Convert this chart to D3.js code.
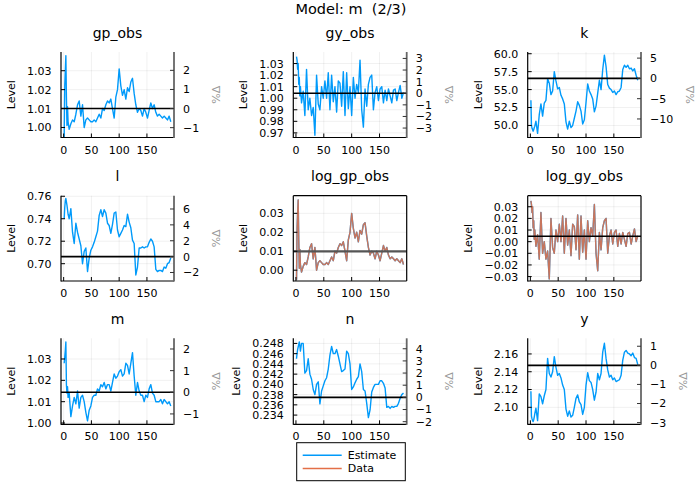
<!DOCTYPE html>
<html><head><meta charset="utf-8">
<script src="https://cdn.jsdelivr.net/npm/d3@7"></script>
<style>body{margin:0;background:#fff}svg{font-family:"DejaVu Sans",sans-serif}</style>
</head><body><svg id="c" width="700" height="500"></svg>
<script>
// ---------- data ----------
const periods = [1,2,3,4,5,6,7,8,10,13,16,19,22,25,28,31,34,37,40,43,46,49,52,55,58,61,64,67,70,73,76,79,82,85,88,91,94,97,100,103,106,109,112,115,118,121,124,127,130,133,136,139,142,145,148,151,154,157,160,163,166,169,172,175,178,181,184,187,190,193];

const gpObs = [0.995,1.022,1.030,1.038,1.016,1.001,1.011,1.003,0.999,
 1.002,1.004,1.003,1.007,1.012,1.014,1.006,1.012,1.000,1.004,1.005,1.004,1.003,1.003,1.004,1.003,1.005,1.007,1.005,1.010,1.009,1.012,1.014,1.013,1.015,1.010,1.005,1.016,1.020,1.031,1.022,1.017,1.020,1.015,1.021,1.019,1.024,1.026,1.018,1.012,1.008,1.010,1.009,1.006,1.010,1.008,1.005,1.009,1.013,1.010,1.012,1.008,1.006,1.007,1.006,1.005,1.006,1.005,1.004,1.006,1.003];

const gyObs = [1.036,1.033,1.025,1.030,1.012,1.018,1.002,1.010,0.996,
 1.006,0.985,1.025,0.990,1.000,0.985,0.992,0.968,1.020,0.995,0.990,1.010,1.000,1.015,1.000,1.022,0.990,1.020,0.997,1.010,0.988,1.015,1.013,0.993,1.023,0.985,1.022,0.991,1.010,0.985,1.018,1.000,1.012,1.005,1.033,0.990,0.975,1.008,0.993,1.012,1.018,1.020,0.990,1.005,1.010,0.998,1.008,1.010,0.996,1.007,0.998,1.008,1.002,0.996,1.007,1.008,0.998,1.005,1.011,1.000,1.005];

const kVals = [53.5,50.0,49.6,49.4,49.2,49.4,49.7,49.9,50.6,
 48.9,51.5,53.0,51.3,53.1,53.5,56.5,55.9,54.3,54.8,57.5,56.2,55.1,55.3,54.2,53.7,53.0,50.5,49.5,50.6,49.7,50.0,51.0,52.0,53.3,52.8,52.0,50.2,50.8,53.2,55.8,54.8,54.3,53.7,51.9,52.7,54.5,56.3,55.0,57.8,59.8,58.2,55.7,55.2,55.0,54.6,54.8,54.3,54.7,54.8,55.3,57.8,58.4,58.1,58.4,57.9,58.0,57.6,57.9,57.0,56.3];

const lVals = [0.740,0.750,0.756,0.758,0.755,0.752,0.748,0.744,0.740,
 0.749,0.728,0.718,0.736,0.728,0.722,0.716,0.700,0.711,0.714,0.693,0.705,0.712,0.715,0.719,0.724,0.729,0.743,0.748,0.742,0.748,0.745,0.736,0.734,0.727,0.735,0.745,0.746,0.730,0.724,0.727,0.730,0.734,0.733,0.744,0.737,0.732,0.721,0.718,0.690,0.697,0.714,0.714,0.715,0.714,0.715,0.715,0.719,0.722,0.720,0.715,0.695,0.693,0.694,0.694,0.693,0.697,0.696,0.700,0.701,0.705];

const logGpObs = [-0.005,0.022,0.030,0.037,0.016,0.001,0.011,0.003,-0.001,
 0.002,0.004,0.003,0.007,0.012,0.014,0.006,0.012,0.000,0.004,0.005,0.004,0.003,0.003,0.004,0.003,0.005,0.007,0.005,0.010,0.009,0.012,0.014,0.013,0.015,0.010,0.005,0.016,0.020,0.030,0.022,0.017,0.020,0.015,0.021,0.019,0.024,0.025,0.018,0.012,0.008,0.010,0.009,0.006,0.010,0.008,0.005,0.009,0.013,0.010,0.012,0.008,0.006,0.007,0.006,0.005,0.006,0.005,0.004,0.006,0.003];

const logGyObs = [0.035,0.032,0.025,0.030,0.012,0.018,0.002,0.010,-0.004,
 0.006,-0.015,0.025,-0.010,0.000,-0.015,-0.008,-0.032,0.020,-0.005,-0.010,0.010,0.000,0.015,0.000,0.022,-0.010,0.020,-0.003,0.010,-0.012,0.015,0.013,-0.007,0.023,-0.015,0.022,-0.009,0.010,-0.015,0.018,0.000,0.012,0.005,0.032,-0.010,-0.025,0.008,-0.007,0.012,0.018,0.020,-0.010,0.005,0.010,-0.002,0.008,0.010,-0.004,0.007,-0.002,0.008,0.002,-0.004,0.007,0.008,-0.002,0.005,0.011,0.000,0.005];

const mVals = [1.028,1.031,1.034,1.038,1.018,1.014,1.017,1.012,1.014,
 1.003,1.008,1.012,1.009,1.015,1.007,1.012,1.013,1.010,1.005,1.001,1.006,1.008,1.012,1.013,1.013,1.016,1.015,1.018,1.017,1.019,1.016,1.018,1.018,1.015,1.019,1.023,1.021,1.022,1.024,1.025,1.022,1.023,1.028,1.027,1.023,1.028,1.033,1.022,1.013,1.019,1.015,1.013,1.013,1.010,1.013,1.012,1.016,1.018,1.014,1.013,1.010,1.010,1.010,1.011,1.009,1.011,1.010,1.009,1.010,1.008];

const nVals = [0.2450,0.2460,0.2468,0.2473,0.2478,0.2483,0.2475,0.2465,0.2480,
 0.2480,0.2422,0.2427,0.2450,0.2420,0.2410,0.2390,0.2380,0.2400,0.2405,0.2362,0.2387,0.2397,0.2407,0.2413,0.2430,0.2457,0.2474,0.2460,0.2460,0.2468,0.2455,0.2440,0.2425,0.2427,0.2430,0.2465,0.2460,0.2440,0.2390,0.2395,0.2403,0.2410,0.2415,0.2440,0.2425,0.2390,0.2387,0.2363,0.2335,0.2350,0.2385,0.2394,0.2400,0.2400,0.2400,0.2407,0.2407,0.2402,0.2393,0.2355,0.2357,0.2353,0.2357,0.2355,0.2357,0.2357,0.2363,0.2373,0.2380,0.2383];

const yVals = [2.118,2.090,2.087,2.085,2.084,2.086,2.089,2.093,2.099,
 2.085,2.115,2.112,2.104,2.113,2.120,2.155,2.138,2.134,2.140,2.157,2.145,2.136,2.138,2.133,2.125,2.120,2.098,2.090,2.096,2.089,2.091,2.100,2.110,2.114,2.106,2.103,2.092,2.100,2.125,2.139,2.130,2.128,2.120,2.108,2.117,2.138,2.131,2.138,2.162,2.172,2.155,2.142,2.134,2.136,2.131,2.133,2.129,2.130,2.131,2.136,2.153,2.162,2.164,2.161,2.160,2.158,2.161,2.156,2.155,2.148];

const panelNames = ["gp_obs","gy_obs","k","l","log_gp_obs","log_gy_obs","m","n","y"];
const estimateSeries = [gpObs, gyObs, kVals, lVals, logGpObs, logGyObs, mVals, nVals, yVals];
const dataSeries = [null, null, null, null, logGpObs, logGyObs, null, null, null];
const steadyStates = [1.0100, 1.0043, 56.56, 0.7063, 0.0099, 0.0046, 1.0144, 0.23746, 2.1472];
const yLow  = [0.9947, 0.966, 48.32, 0.6846, -0.0057, -0.0338, 0.9994, 0.2322, 2.0809];
const yHigh = [1.0399, 1.040, 60.24, 0.7605, 0.0393, 0.0395, 1.0397, 0.2490, 2.1776];
const leftTicks = [
  [1.00,1.01,1.02,1.03],
  [0.97,0.98,0.99,1.00,1.01,1.02,1.03],
  [50.0,52.5,55.0,57.5,60.0],
  [0.70,0.72,0.74,0.76],
  [0.00,0.01,0.02,0.03],
  [-0.03,-0.02,-0.01,0.00,0.01,0.02,0.03],
  [1.00,1.01,1.02,1.03],
  [0.234,0.236,0.238,0.240,0.242,0.244,0.246,0.248],
  [2.10,2.12,2.14,2.16]
];
const leftFormats = [".2f",".2f",".1f",".2f",".2f",".2f",".2f",".3f",".2f"];
const rightTicks = [[-1,0,1,2],[-3,-2,-1,0,1,2,3],[-10,-5,0,5],[-2,0,2,4,6],null,null,[-1,0,1,2],[-2,-1,0,1,2,3,4],[-3,-2,-1,0,1]];
const xTicks = [0,50,100,150];
const legendLabels = ["Estimate","Data"];
const chartTitle = "Model: m  (2/3)";

// ---------- layout ----------
const colX = [[61,174],[293.3,406.7],[527.7,641]];
const rowY = [[52,137.5],[195.7,281],[338.3,424.3]];
const blue = "#009AFA", orange = "#E36F47";

const svg = d3.select("#c");
svg.append("rect").attr("width",700).attr("height",500).attr("fill","#fff");

svg.append("text").attr("x",351).attr("y",13.5).attr("text-anchor","middle")
  .style("white-space","pre")
  .attr("font-size",14.5).attr("fill","#000").text(chartTitle);

const xDomain = [1 - 192*0.03, 193 + 192*0.03];

panelNames.forEach((name, i) => {
  const c = i % 3, r = Math.floor(i / 3);
  const [x0, x1] = colX[c], [y0, y1] = rowY[r];
  const g = svg.append("g");
  const x = d3.scaleLinear().domain(xDomain).range([x0, x1]);
  const y = d3.scaleLinear().domain([yLow[i], yHigh[i]]).range([y1, y0]);
  const isBox = rightTicks[i] === null;

  // grid
  g.append("g").selectAll("line").data(xTicks).join("line")
    .attr("x1", d => x(d)).attr("x2", d => x(d)).attr("y1", y0).attr("y2", y1)
    .attr("stroke", "#000").attr("stroke-opacity", 0.1).attr("stroke-width", 0.6);
  g.append("g").selectAll("line").data(leftTicks[i]).join("line")
    .attr("x1", x0).attr("x2", x1).attr("y1", d => y(d)).attr("y2", d => y(d))
    .attr("stroke", "#000").attr("stroke-opacity", 0.1).attr("stroke-width", 0.6);

  // clip
  const clipId = "clip" + i;
  svg.append("clipPath").attr("id", clipId).append("rect")
    .attr("x", x0).attr("y", y0).attr("width", x1 - x0).attr("height", y1 - y0);

  const line = d3.line().x((d, j) => x(periods[j])).y(d => y(d));
  const plot = g.append("g").attr("clip-path", `url(#${clipId})`);
  plot.append("path").datum(estimateSeries[i]).attr("d", line)
    .attr("fill", "none").attr("stroke", blue).attr("stroke-width", 1.4).attr("stroke-linejoin","round");
  if (dataSeries[i]) {
    plot.append("path").datum(dataSeries[i]).attr("d", line)
      .attr("fill", "none").attr("stroke", orange).attr("stroke-width", 1.4)
      .attr("stroke-opacity", 0.88).attr("stroke-linejoin","round");
  }
  // steady state line
  g.append("line").attr("x1", x0).attr("x2", x1)
    .attr("y1", y(steadyStates[i])).attr("y2", y(steadyStates[i]))
    .attr("stroke", name === "log_gp_obs" ? "#555" : "#000")
    .attr("stroke-width", name === "log_gp_obs" ? 2.2 : 1.6);

  // left axis
  const fmt = d3.format(leftFormats[i]);
  const lt = g.append("g");
  lt.selectAll("line").data(leftTicks[i]).join("line")
    .attr("x1", x0).attr("x2", x0 + 4).attr("y1", d => y(d)).attr("y2", d => y(d))
    .attr("stroke", "#000").attr("stroke-width", 1);
  const leftLabels = lt.selectAll("text").data(leftTicks[i]).join("text")
    .attr("x", x0 - 9.5).attr("y", d => y(d)).attr("dy", "0.36em")
    .attr("text-anchor", "end").attr("font-size", 11).attr("fill", "#000").text(d => fmt(d));
  let minStart = x0;
  leftLabels.each(function(){ minStart = Math.min(minStart, x0 - 9.5 - this.getComputedTextLength()); });
  g.append("text").attr("transform", `translate(${minStart - 12},${(y0 + y1) / 2}) rotate(-90)`)
    .attr("text-anchor", "middle").attr("font-size", 11).attr("fill", "#000").text("Level");

  // bottom axis
  g.append("g").selectAll("line").data(xTicks).join("line")
    .attr("x1", d => x(d)).attr("x2", d => x(d)).attr("y1", y1).attr("y2", y1 - 4)
    .attr("stroke", "#000").attr("stroke-width", 1);
  g.append("g").selectAll("text").data(xTicks).join("text")
    .attr("x", d => x(d)).attr("y", y1 + 16).attr("text-anchor", "middle")
    .attr("font-size", 11).attr("fill", "#000").text(d => d);

  // spines
  g.append("line").attr("x1", x0).attr("x2", x0).attr("y1", y0).attr("y2", y1 + 0.5).attr("stroke", "#000").attr("stroke-width", 1.2);
  g.append("line").attr("x1", x0).attr("x2", x1).attr("y1", y1).attr("y2", y1).attr("stroke", "#000").attr("stroke-width", 1.2);

  if (isBox) {
    g.append("line").attr("x1", x0).attr("x2", x1).attr("y1", y0).attr("y2", y0).attr("stroke", "#000").attr("stroke-width", 1.2);
    g.append("line").attr("x1", x1).attr("x2", x1).attr("y1", y0).attr("y2", y1).attr("stroke", "#000").attr("stroke-width", 1.2);
  } else {
    // twin %Δ axis
    const ss = steadyStates[i];
    const yr = d3.scaleLinear().domain([(yLow[i] / ss - 1) * 100, (yHigh[i] / ss - 1) * 100]).range([y1, y0]);
    g.append("line").attr("x1", x1).attr("x2", x1).attr("y1", y0).attr("y2", y1 + 0.5)
      .attr("stroke", "#666").attr("stroke-width", 1.8);
    const rt = g.append("g");
    rt.selectAll("line").data(rightTicks[i]).join("line")
      .attr("x1", x1 - 4).attr("x2", x1).attr("y1", d => yr(d)).attr("y2", d => yr(d))
      .attr("stroke", "#333").attr("stroke-width", 1);
    const rfmt = d3.format("d");
    const rightLabels = rt.selectAll("text").data(rightTicks[i]).join("text")
      .attr("x", x1 + 9).attr("y", d => yr(d)).attr("dy", "0.36em")
      .attr("text-anchor", "start").attr("font-size", 11).attr("fill", "#000").text(d => rfmt(d));
    let maxEnd = x1;
    rightLabels.each(function(){ maxEnd = Math.max(maxEnd, x1 + 9 + this.getComputedTextLength()); });
    g.append("text").attr("transform", `translate(${maxEnd + 21},${(y0 + y1) / 2}) rotate(-90)`)
      .attr("text-anchor", "middle").attr("font-size", 11).attr("fill", "#999").text("%Δ");
  }

  // subplot title
  g.append("text").attr("x", (x0 + x1) / 2).attr("y", y0 - 14.5).attr("text-anchor", "middle")
    .attr("font-size", 14).attr("fill", "#000").text(name);
});

// legend
const lg = svg.append("g");
lg.append("rect").attr("x", 296.7).attr("y", 442.7).attr("width", 108.6).attr("height", 38)
  .attr("fill", "#fff").attr("stroke", "#000").attr("stroke-width", 1);
legendLabels.forEach((lab, j) => {
  const ly = 455.3 + j * 13.2;
  lg.append("line").attr("x1", 302.7).attr("x2", 341.7).attr("y1", ly).attr("y2", ly)
    .attr("stroke", j === 0 ? blue : orange).attr("stroke-width", 1.4);
  lg.append("text").attr("x", 347.7).attr("y", ly).attr("dy", "0.36em")
    .attr("font-size", 11).attr("fill", "#000").text(lab);
});
</script></body></html>
